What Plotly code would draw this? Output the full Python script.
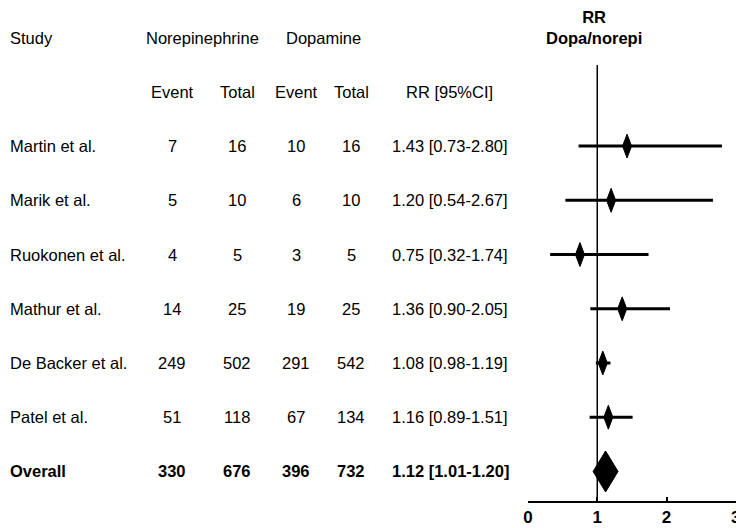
import plotly.graph_objects as go

studies = ["Martin et al.", "Marik et al.", "Ruokonen et al.", "Mathur et al.",
           "De Backer et al.", "Patel et al.", "Overall"]
nor_event = [7, 5, 4, 14, 249, 51, 330]
nor_total = [16, 10, 5, 25, 502, 118, 676]
dop_event = [10, 6, 3, 19, 291, 67, 396]
dop_total = [16, 10, 5, 25, 542, 134, 732]
rr = [1.43, 1.20, 0.75, 1.36, 1.08, 1.16, 1.12]
rr_lo = [0.73, 0.54, 0.32, 0.90, 0.98, 0.89, 1.01]
rr_hi = [2.80, 2.67, 1.74, 2.05, 1.19, 1.51, 1.20]
x_ticks = [0, 1, 2, 3]

W, H = 736, 528
FONT = "Liberation Sans, Arial, sans-serif"
FS = 16.5

# vertical layout (pixel-based style constants)
row0_px, row_step = 146, 54.2
plot_bottom_px = 500.7
y_top = (0 - row0_px) / row_step
y_bot = (plot_bottom_px - row0_px) / row_step
vline_top = (65 - row0_px) / row_step

fig = go.Figure()

n = len(studies)
# CI lines (studies only, overall drawn as diamond)
xs, ys = [], []
for i in range(n - 1):
    xs += [rr_lo[i], rr_hi[i], None]
    ys += [i, i, None]
fig.add_trace(go.Scatter(x=xs, y=ys, mode="lines",
                         line=dict(color="black", width=3), hoverinfo="skip"))

# diamonds
for i in range(n):
    if i == n - 1:
        hw, hh = 0.18, 0.378
    else:
        hw, hh = 0.065, 0.22
    dx = [rr[i] - hw, rr[i], rr[i] + hw, rr[i], rr[i] - hw]
    dy = [i, i - hh, i, i + hh, i]
    fig.add_trace(go.Scatter(x=dx, y=dy, mode="lines", fill="toself",
                             fillcolor="black", line=dict(color="black", width=1),
                             hoverinfo="skip"))

# reference line at RR = 1
fig.add_shape(type="line", x0=1, x1=1, y0=vline_top, y1=y_bot, xref="x", yref="y",
              line=dict(color="black", width=1.5))

ann = []
def txt(xpx, y, s, anchor="center", bold=False, size=FS):
    ann.append(dict(x=xpx / W, y=y, xref="paper", yref="y", text=(f"<b>{s}</b>" if bold else s),
                    showarrow=False, xanchor=anchor, yanchor="middle",
                    font=dict(family=FONT, size=size, color="black")))

# column positions (px)
C_STUDY, C_NE, C_NT, C_DE, C_DT, C_RR = 8, 172, 237, 296, 351, 390

# headers
txt(C_STUDY, -2, "Study", anchor="left")
txt(202, -2, "Norepinephrine")
txt(323, -2, "Dopamine")
txt(C_NE, -1, "Event")
txt(C_NT, -1, "Total")
txt(C_DE, -1, "Event")
txt(C_DT, -1, "Total")
txt(449, -1, "RR [95%CI]")

for i in range(n):
    b = (i == n - 1)
    txt(C_STUDY, i, studies[i], anchor="left", bold=b)
    txt(C_NE, i, str(nor_event[i]), bold=b)
    txt(C_NT, i, str(nor_total[i]), bold=b)
    txt(C_DE, i, str(dop_event[i]), bold=b)
    txt(C_DT, i, str(dop_total[i]), bold=b)
    txt(C_RR, i, f"{rr[i]:.2f} [{rr_lo[i]:.2f}-{rr_hi[i]:.2f}]", anchor="left", bold=b)

ann.append(dict(x=594 / W, y=1 - 29 / H, xref="paper", yref="paper",
                text="<b>RR<br>Dopa/norepi</b>", showarrow=False,
                xanchor="center", yanchor="middle",
                font=dict(family=FONT, size=FS, color="black")))

fig.update_layout(
    width=W, height=H,
    margin=dict(l=0, r=0, t=0, b=H - plot_bottom_px),
    paper_bgcolor="white", plot_bgcolor="white",
    showlegend=False,
    annotations=ann,
    xaxis=dict(domain=[528 / W, 1], range=[0, 3.003], tickvals=x_ticks,
               ticktext=[f"<b>{t}</b>" for t in x_ticks],
               showline=True, linecolor="black", linewidth=1.5,
               ticks="inside", ticklen=4, tickcolor="black", tickwidth=1.5,
               ticklabelstandoff=0, ticklabeloverflow="allow", automargin=False,
               showgrid=False, zeroline=False,
               tickfont=dict(family=FONT, size=17, color="black")),
    yaxis=dict(range=[y_bot, y_top], visible=False, showgrid=False, zeroline=False),
)

fig.write_html("out.html", config={"displayModeBar": False},
               post_script="document.body.style.margin='0';document.body.style.padding='0';document.body.style.overflow='hidden';")
